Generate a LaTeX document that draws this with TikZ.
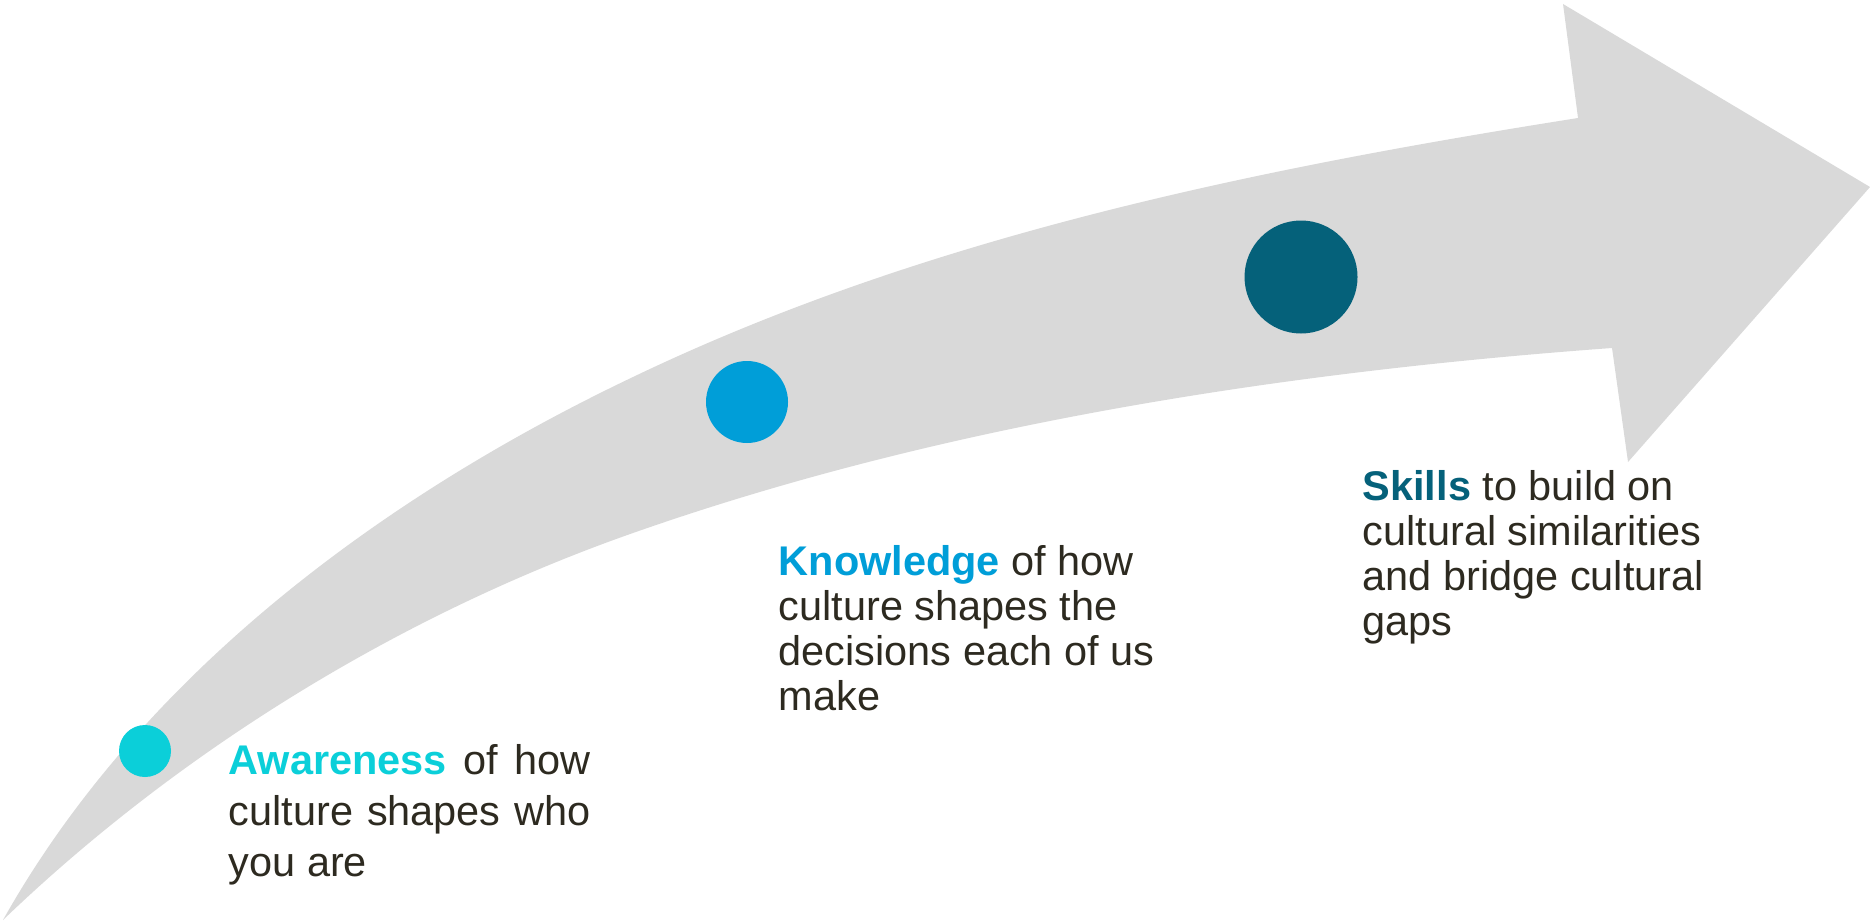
\documentclass[tikz,border=0pt]{standalone}
\usepackage{fontspec}
\setmainfont{Liberation Sans}
\usepackage{xcolor}
\usepackage{tikz}
\definecolor{arrowgray}{HTML}{D9D9D9}
\definecolor{awarecyan}{HTML}{0BCFD9}
\definecolor{knowblue}{HTML}{009ED8}
\definecolor{skillteal}{HTML}{05617A}
\definecolor{textdark}{HTML}{2D2A20}

\begin{document}
\begin{tikzpicture}[x=0.1mm,y=-0.1mm,
    dot/.style={circle,inner sep=0pt,draw=none},
    stage/.style={anchor=north west,inner sep=0pt,text=textdark,align=left,
        font=\fontsize{11.8}{12.8}\selectfont}]
    \useasboundingbox (0,0) rectangle (1870,923);
    \fill[arrowgray] (3,920) .. controls (140,676) and (381,497) .. (633,377)
        .. controls (927,236) and (1255,169) .. (1578,118)
        -- (1563,4) -- (1870,187) -- (1628,462) -- (1612,348)
        .. controls (1283,372) and (943,424) .. (633,533)
        .. controls (402,614) and (180,750) .. (3,920) -- cycle;
    \node[dot,fill=awarecyan,minimum size=5.2mm] (aware) at (145,751) {};
    \node[dot,fill=knowblue,minimum size=8.2mm] (know) at (747,402) {};
    \node[dot,fill=skillteal,minimum size=11.3mm] (skill) at (1301,277) {};
    \node[stage,text width=103pt,align=justify,font=\fontsize{11.8}{14.5}\selectfont] (awaretext) at (228,744)
        {\textcolor{awarecyan}{\textbf{Awareness}} of how\linebreak culture shapes who\linebreak you are};
    \node[stage] (knowtext) at (778,545)
        {\textcolor{knowblue}{\textbf{Knowledge}} of how\\culture shapes the\\decisions each of us\\make};
    \node[stage] (skilltext) at (1362,470)
        {\textcolor{skillteal}{\textbf{Skills}} to build on\\cultural similarities\\and bridge cultural\\gaps};
\end{tikzpicture}
\end{document}
